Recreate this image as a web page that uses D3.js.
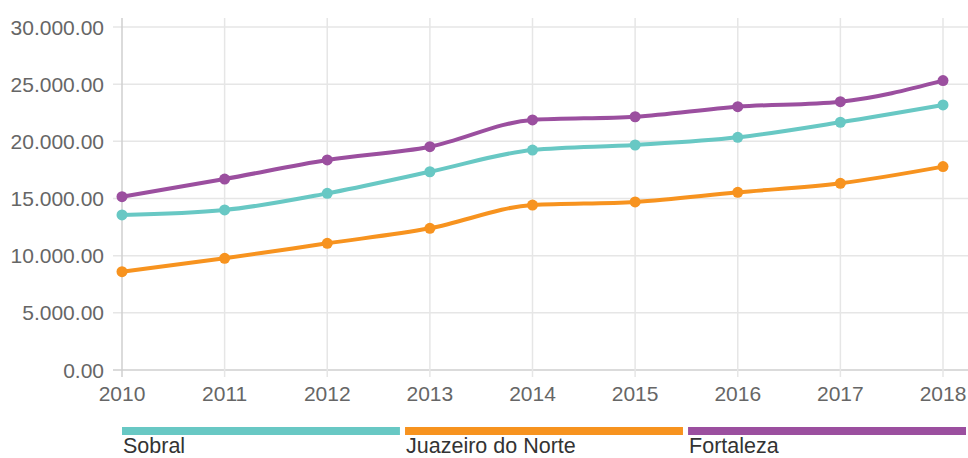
<!DOCTYPE html>
<meta charset="utf-8">
<script src="https://d3js.org/d3.v7.min.js"></script>
<style>
  body { margin: 0; background: #fff; }
  text { font-family: "Liberation Sans", Arial, sans-serif; }
</style>
<div id="my_dataviz"></div>

<script>

  // data
  var years = [2010, 2011, 2012, 2013, 2014, 2015, 2016, 2017, 2018];
  var sobral   = [13560, 14000, 15450, 17340, 19240, 19680, 20350, 21670, 23180];
  var juazeiro = [8600, 9770, 11080, 12390, 14430, 14700, 15540, 16330, 17790];
  var fortaleza = [15160, 16700, 18370, 19530, 21870, 22150, 23030, 23470, 25310];
  var seriesNames = ["Sobral", "Juazeiro do Norte", "Fortaleza"];
  var colors = ["#68c8c4", "#f7931f", "#9b4f9f"];
  var yTicks = [0, 5000, 10000, 15000, 20000, 25000, 30000];

  var series = [sobral, juazeiro, fortaleza].map(function(vals, i) {
    return { name: seriesNames[i], color: colors[i],
             values: vals.map(function(v, j) { return { year: years[j], value: v }; }) };
  });

  var width = 968, height = 458;
  var plot = {left: 122, right: 943, top: 27, bottom: 370};

  var svg = d3.select("#my_dataviz")
    .append("svg")
      .attr("width", width)
      .attr("height", height);

  var x = d3.scalePoint()
    .domain(years)
    .range([plot.left, plot.right]);

  var y = d3.scaleLinear()
    .domain([0, 30000])
    .range([plot.bottom, plot.top]);

  // number format 30.000.00
  function fmt(v) {
    return d3.format(",.2f")(v).replace(/,/g, ".");
  }

  // horizontal grid
  svg.append("g")
    .selectAll("line")
    .data(yTicks)
    .enter().append("line")
      .attr("x1", plot.left - 9)
      .attr("x2", width)
      .attr("y1", function(d) { return y(d); })
      .attr("y2", function(d) { return y(d); })
      .attr("stroke", function(d) { return d === 0 ? "#cfcfcf" : "#e6e6e6"; })
      .attr("stroke-width", 1.5);

  // vertical grid
  svg.append("g")
    .selectAll("line")
    .data(years)
    .enter().append("line")
      .attr("x1", function(d) { return x(d); })
      .attr("x2", function(d) { return x(d); })
      .attr("y1", 18)
      .attr("y2", plot.bottom + 7)
      .attr("stroke", function(d, i) { return i === 0 ? "#cfcfcf" : "#e6e6e6"; })
      .attr("stroke-width", 1.5);

  // y labels
  svg.append("g")
    .selectAll("text")
    .data(yTicks)
    .enter().append("text")
      .attr("x", plot.left - 18)
      .attr("y", function(d) { return y(d); })
      .attr("dy", "0.36em")
      .attr("text-anchor", "end")
      .attr("fill", "#666")
      .style("font-size", "21px")
      .text(fmt);

  // x labels
  svg.append("g")
    .selectAll("text")
    .data(years)
    .enter().append("text")
      .attr("x", function(d) { return x(d); })
      .attr("y", 401)
      .attr("text-anchor", "middle")
      .attr("fill", "#666")
      .style("font-size", "21px")
      .text(function(d) { return d; });

  var line = d3.line()
    .x(function(d) { return x(d.year); })
    .y(function(d) { return y(d.value); })
    .curve(d3.curveMonotoneX);

  var g = svg.append("g")
    .selectAll("g")
    .data(series)
    .enter().append("g");

  g.append("path")
    .attr("d", function(d) { return line(d.values); })
    .attr("fill", "none")
    .attr("stroke", function(d) { return d.color; })
    .attr("stroke-width", 4);

  g.selectAll("circle")
    .data(function(d) { return d.values.map(function(v) { return { v: v, color: d.color }; }); })
    .enter().append("circle")
      .attr("cx", function(d) { return x(d.v.year); })
      .attr("cy", function(d) { return y(d.v.value); })
      .attr("r", 5.5)
      .attr("fill", function(d) { return d.color; });

  // legend
  var legX = d3.scaleBand()
    .domain(seriesNames)
    .range([plot.left, 966])
    .paddingInner(0.018);

  var leg = svg.append("g")
    .selectAll("g")
    .data(series)
    .enter().append("g");

  leg.append("rect")
    .attr("x", function(d) { return legX(d.name); })
    .attr("y", 427)
    .attr("width", legX.bandwidth())
    .attr("height", 8)
    .attr("fill", function(d) { return d.color; });

  leg.append("text")
    .attr("x", function(d) { return legX(d.name) + 1; })
    .attr("y", 453)
    .attr("fill", "#333")
    .style("font-size", "21.5px")
    .text(function(d) { return d.name; });

</script>
